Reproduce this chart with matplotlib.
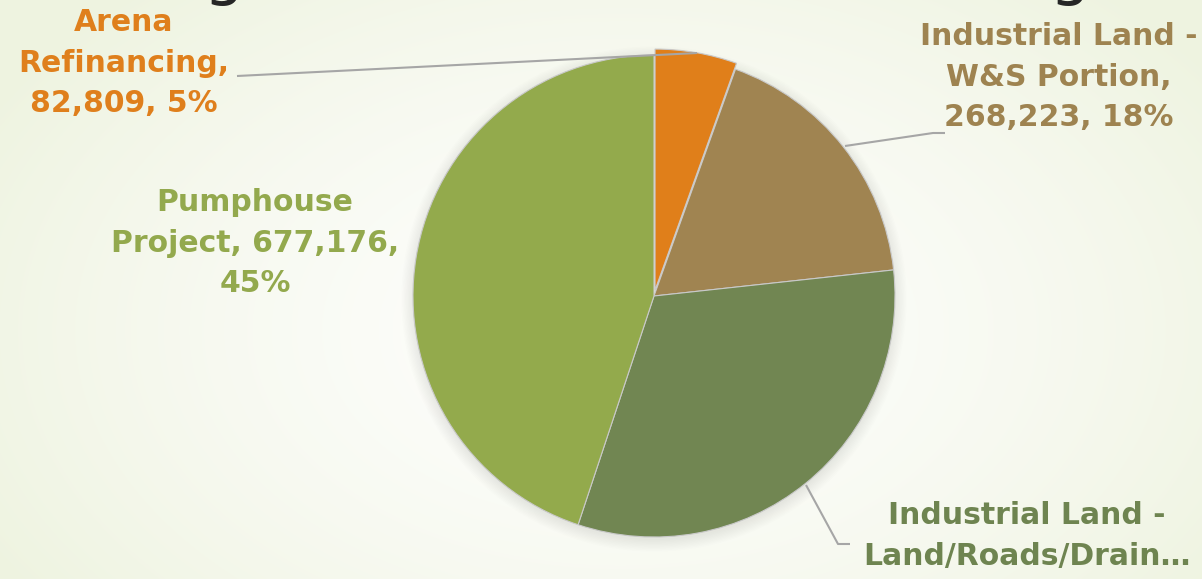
import numpy as np
import matplotlib.pyplot as plt
from matplotlib.patches import Circle

# data
categories = ['Arena Refinancing', 'Industrial Land - W&S Portion',
              'Industrial Land - Land/Roads/Drain...', 'Pumphouse Project']
values = [82809, 268223, 480000, 677176]
label_texts = ['Arena\nRefinancing,\n82,809, 5%',
               'Industrial Land -\nW&S Portion,\n268,223, 18%',
               'Industrial Land -\nLand/Roads/Drain\u2026',
               'Pumphouse\nProject, 677,176,\n45%']
colors = ['#E07F1A', '#A08451', '#718652', '#93AA4C']
text_colors = ['#DF7F1C', '#9E8350', '#6E8450', '#93A94D']

W, H = 1202, 579
fig = plt.figure(figsize=(W / 100, H / 100), dpi=100)

# background gradient
bg = fig.add_axes([0, 0, 1, 1])
yy, xx = np.mgrid[0:H, 0:W]
r = np.sqrt(((xx - 620) / 720.0) ** 2 + ((yy - 330) / 460.0) ** 2)
r = np.clip(r, 0, 1) ** 1.5
c0 = np.array([0.995, 0.995, 0.99])
c1 = np.array([0.935, 0.955, 0.88])
img = c0[None, None, :] * (1 - r[..., None]) + c1[None, None, :] * r[..., None]
bg.imshow(img, extent=[0, W, 0, H], origin='upper', aspect='auto')
bg.set_axis_off()

ax = fig.add_axes([0, 0, 1, 1])
ax.set_xlim(0, W)
ax.set_ylim(0, H)
ax.set_axis_off()
ax.patch.set_alpha(0)

cx, cy, R = 654, H - 296, 241

# soft shadow
for i in range(10):
    ax.add_patch(Circle((cx, cy - 3), R + i * 1.3, color='black',
                        alpha=0.008, lw=0, zorder=1))

wedges, _ = ax.pie(values, colors=colors, startangle=90, counterclock=False,
                   center=(cx, cy), radius=R, explode=[6, 0, 0, 0],
                   wedgeprops=dict(edgecolor='#C9C9C9', linewidth=0.8))
for w in wedges:
    w.set_zorder(3)
ax.set_xlim(0, W)
ax.set_ylim(0, H)
ax.set_aspect('auto')

# leader lines (image coords)
leaders = [
    [(237, 76), (697, 53)],
    [(845, 146), (933, 133), (945, 133)],
    [(806, 485), (838, 544), (850, 544)],
]
for pts in leaders:
    xs = [p[0] for p in pts]
    ys = [H - p[1] for p in pts]
    ax.plot(xs, ys, color='#A6A6A6', lw=1.5, zorder=4, solid_capstyle='butt')

# labels: center x, middle y (image coords)
label_pos = [(124, 63), (1059, 77), (1027, 536), (255, 243)]
for txt, (lx, ly), tc in zip(label_texts, label_pos, text_colors):
    ax.text(lx, H - ly, txt, ha='center', va='center', ma='center',
            color=tc, fontsize=21.5, fontweight='bold', family='DejaVu Sans',
            linespacing=1.5, zorder=5)

# cut-off title descenders
for gx in (224, 1070):
    fig.text(gx / W, 1 + 7 / H, 'g', ha='center', va='baseline',
             fontsize=46, color='#262626', family='DejaVu Sans')

fig.savefig('out.png', dpi=100)
